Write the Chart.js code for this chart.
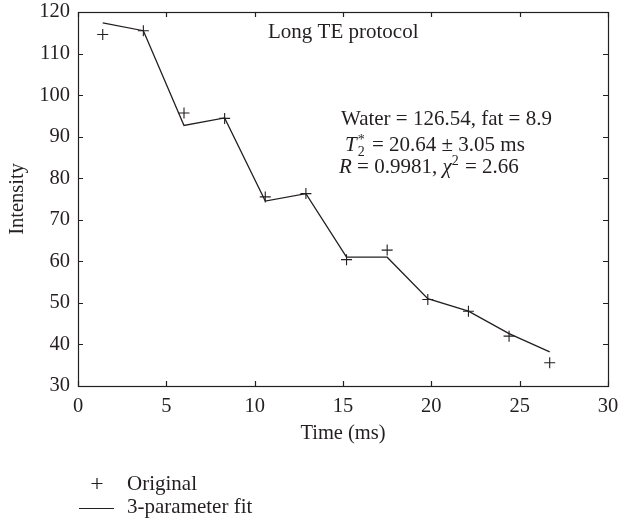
<!DOCTYPE html>
<html>
<head>
<meta charset="utf-8">
<script src="https://cdn.jsdelivr.net/npm/chart.js@4"></script>
<style>
  html, body { margin: 0; padding: 0; background: #fff; }
  #wrap { width: 619px; height: 520px; }
</style>
</head>
<body>
<div id="wrap"><canvas id="chart" width="619" height="520"></canvas></div>
<script>
// Data
const timeMs = [1.4, 3.7, 6.0, 8.3, 10.6, 12.9, 15.2, 17.5, 19.8, 22.1, 24.4, 26.7];
const original = [114.6, 115.5, 95.7, 94.4, 75.5, 76.3, 60.4, 62.7, 50.8, 48.0, 42.0, 35.6];
const fit3 = [117.4, 115.5, 92.7, 94.5, 74.5, 76.3, 61.0, 61.0, 51.0, 48.0, 42.6, 38.2];
const xRange = [0, 30];
const yRange = [30, 120];
const legendLabels = ["Original", "3-parameter fit"];

const INK = "#231f20";
const FONT = "'Liberation Serif', 'DejaVu Serif', serif";
const FS = 20.5;

const toXY = (xs, ys) => xs.map((x, i) => ({ x: x, y: ys[i] }));

// draw a run of text pieces (normal / italic / sub / sup)
function drawRuns(ctx, x, y, runs) {
  runs.forEach(r => {
    ctx.font = (r.italic ? "italic " : "") + (r.size || 21) + "px " + FONT;
    ctx.fillText(r.t, x, y + (r.dy || 0));
    if (!r.stack) x += ctx.measureText(r.t).width + (r.gap || 0);
  });
  return x;
}

const framePlugin = {
  id: "frame",
  afterDraw(chart) {
    const { ctx, chartArea: a, scales } = chart;
    const xs = scales.x, ys = scales.y;
    ctx.save();
    ctx.strokeStyle = INK;
    ctx.lineWidth = 1.2;
    // box
    ctx.strokeRect(Math.round(a.left) + 0.5, Math.round(a.top) + 0.5,
      Math.round(a.right - a.left), Math.round(a.bottom - a.top));
    // inward ticks on all four sides
    ctx.beginPath();
    xs.ticks.forEach(t => {
      const px = Math.round(xs.getPixelForValue(t.value)) + 0.5;
      ctx.moveTo(px, a.bottom); ctx.lineTo(px, a.bottom - 5);
      ctx.moveTo(px, a.top); ctx.lineTo(px, a.top + 5);
    });
    ys.ticks.forEach(t => {
      const py = Math.round(ys.getPixelForValue(t.value)) + 0.5;
      ctx.moveTo(a.left, py); ctx.lineTo(a.left + 5, py);
      ctx.moveTo(a.right, py); ctx.lineTo(a.right - 5, py);
    });
    ctx.stroke();

    // annotations
    ctx.fillStyle = INK;
    ctx.textBaseline = "alphabetic";
    ctx.textAlign = "left";
    drawRuns(ctx, 268, 38, [{ t: "Long TE protocol" }]);
    drawRuns(ctx, 341, 125, [{ t: "Water = 126.54, fat = 8.9" }]);
    let x = drawRuns(ctx, 345, 151, [{ t: "T", italic: true }]);
    drawRuns(ctx, x + 1, 151, [
      { t: "*", size: 14, dy: -7, stack: true },
      { t: "2", size: 14, dy: 5 }
    ]);
    drawRuns(ctx, x + 10, 151, [{ t: " = 20.64 ± 3.05 ms" }]);
    drawRuns(ctx, 339, 173, [
      { t: "R", italic: true },
      { t: " = 0.9981, " },
      { t: "χ", italic: true },
      { t: "2", size: 14, dy: -8, gap: 1 },
      { t: " = 2.66" }
    ]);

    // legend below the plot
    ctx.beginPath();
    ctx.moveTo(91.5, 483.5); ctx.lineTo(102.5, 483.5);
    ctx.moveTo(97, 478); ctx.lineTo(97, 489);
    ctx.moveTo(79, 508.5); ctx.lineTo(114, 508.5);
    ctx.stroke();
    drawRuns(ctx, 127, 490, [{ t: legendLabels[0] }]);
    drawRuns(ctx, 127, 513, [{ t: legendLabels[1] }]);
    ctx.restore();
  }
};

new Chart(document.getElementById("chart"), {
  type: "scatter",
  data: {
    datasets: [
      {
        label: legendLabels[0],
        data: toXY(timeMs, original),
        pointStyle: "cross",
        pointRadius: 5.5,
        borderColor: INK,
        borderWidth: 1.1,
        showLine: false
      },
      {
        label: legendLabels[1],
        data: toXY(timeMs, fit3),
        showLine: true,
        pointRadius: 0,
        borderColor: INK,
        borderWidth: 1.3,
        tension: 0
      }
    ]
  },
  options: {
    responsive: false,
    animation: false,
    layout: { padding: { left: 0, top: 12, right: 11, bottom: 65 } },
    plugins: { legend: { display: false }, tooltip: { enabled: false } },
    scales: {
      x: {
        type: "linear",
        min: xRange[0], max: xRange[1],
        grid: { display: false, drawTicks: false },
        border: { display: false },
        ticks: { stepSize: 5, padding: 8, color: INK, font: { family: FONT, size: FS } },
        title: { display: true, text: "Time (ms)", color: INK, padding: { top: 4, bottom: 9 }, font: { family: FONT, size: FS } },
        afterFit: s => { s.height = 69; s.paddingLeft = 0; s.paddingRight = 0; }
      },
      y: {
        min: yRange[0], max: yRange[1],
        grid: { display: false, drawTicks: false },
        border: { display: false },
        ticks: { stepSize: 10, padding: 8, color: INK, font: { family: FONT, size: FS } },
        title: { display: true, text: "Intensity", color: INK, padding: { top: 5, bottom: 0 }, font: { family: FONT, size: FS } },
        afterFit: s => { s.width = 78; s.paddingTop = 0; s.paddingBottom = 0; }
      }
    }
  },
  plugins: [framePlugin]
});
</script>
</body>
</html>
